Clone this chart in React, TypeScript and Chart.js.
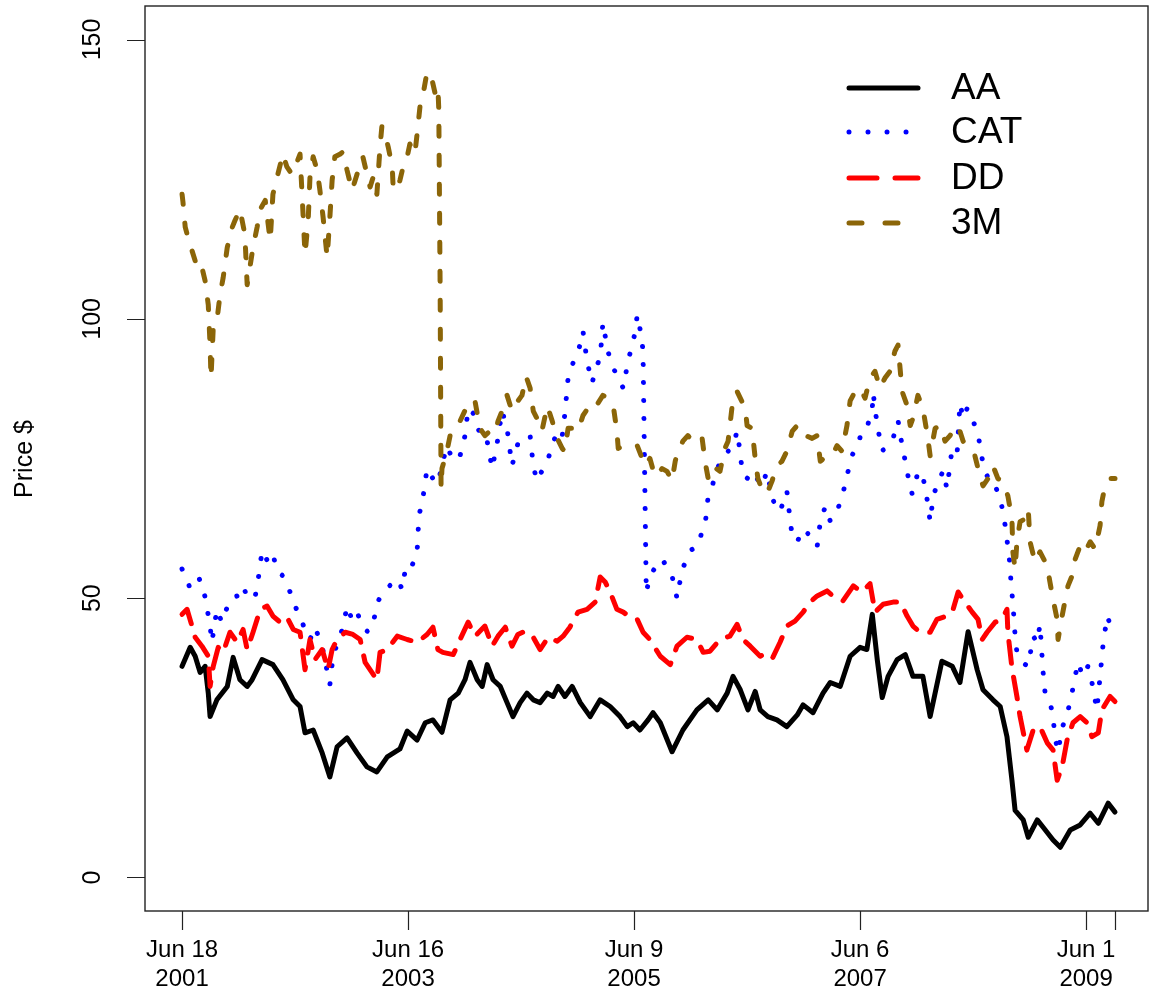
import React, { useEffect, useRef } from "react";
import { Chart, registerables } from "chart.js";

Chart.register(...registerables);

// Trading-day index positions of labelled ticks (last tick = final observation, unlabelled)
const xTickIdx = [0, 500, 1000, 1500, 2000, 2064];
const xTickLine1 = ["Jun 18", "Jun 16", "Jun 9", "Jun 6", "Jun 1", ""];
const xTickLine2 = ["2001", "2003", "2005", "2007", "2009", ""];
const yTicks = [0, 50, 100, 150];

const seriesNames = ["AA", "CAT", "DD", "3M"];

const aaIdx = [0,18,29,40,51,58,62,77,100,113,128,144,155,177,201,223,246,261,272,290,310,327,343,365,387,409,431,454,482,498,520,538,555,575,593,611,626,637,653,664,675,688,704,719,732,748,763,777,792,808,821,832,847,863,881,903,925,947,969,985,998,1013,1031,1042,1058,1084,1108,1139,1164,1184,1206,1219,1235,1252,1268,1279,1296,1316,1338,1361,1374,1396,1418,1434,1456,1478,1500,1515,1527,1538,1549,1562,1582,1600,1617,1639,1655,1681,1704,1721,1739,1759,1772,1794,1810,1825,1836,1843,1861,1872,1892,1905,1927,1943,1965,1987,2009,2027,2049,2064];
const aaPrice = [37.8,41.2,39.6,36.7,37.8,33,28.8,31.8,34.2,39.4,35.4,34.2,35.4,39,38.1,35.4,31.8,30.6,25.9,26.4,22.3,18,23.4,25,22.3,19.8,18.9,21.6,23,26.2,24.6,27.7,28.2,26,31.8,33,35.4,38.5,35.4,34.2,38.1,35.4,34.2,31.3,28.8,31.3,33,31.8,31.3,33,32.4,34.2,32.4,34.2,31.3,28.8,31.8,30.6,28.8,27,27.7,26.4,28.2,29.5,27.7,22.5,26.4,30,31.8,30,33,36,33.6,30,33.3,30,28.8,28.2,27,29.1,30.9,29.5,33,34.9,34.2,39.6,41.2,40.8,47.1,39,32.2,36,39,39.9,36,36,28.8,38.7,37.8,34.9,44,37.2,33.6,31.8,30.6,25.2,17.4,12,10.3,7.2,10.3,9,6.7,5.4,8.5,9.4,11.5,9.7,13.3,11.7];

const catIdx = [0,11,18,29,40,51,62,66,77,88,106,122,135,146,162,168,177,190,201,210,223,239,250,261,272,283,294,310,327,334,356,365,378,389,400,412,423,434,442,456,476,487,493,500,511,520,524,533,542,555,566,577,586,600,615,626,633,644,655,664,675,686,697,708,719,730,743,759,770,777,785,799,810,830,841,847,854,865,876,887,896,907,918,925,931,942,954,965,976,987,996,1002,1007,1018,1020,1027,1035,1051,1062,1077,1084,1095,1106,1124,1142,1150,1157,1164,1173,1184,1195,1208,1219,1228,1235,1239,1250,1261,1272,1283,1294,1305,1312,1323,1338,1345,1350,1361,1374,1389,1405,1412,1423,1434,1449,1462,1471,1482,1496,1504,1515,1527,1529,1538,1549,1562,1573,1584,1593,1600,1606,1615,1626,1637,1644,1650,1655,1662,1673,1684,1692,1699,1704,1715,1721,1728,1737,1750,1761,1765,1772,1781,1792,1799,1810,1816,1821,1827,1832,1834,1838,1843,1847,1858,1872,1883,1892,1898,1905,1909,1920,1927,1931,1938,1947,1958,1969,1982,1993,2004,2013,2024,2031,2038,2047,2053,2064];
const catPrice = [55.2,53.4,51.6,53.1,53.4,50.2,45,42.1,48,45.7,49.8,50.4,52.2,49.8,50.4,53.1,58.5,56.5,57.9,54.9,54,51.1,48.6,46.6,44.4,42.6,44.8,41.4,34.5,39.6,44.8,48.6,45.7,47.1,44.8,43.9,45.7,49.5,50.7,52,53.4,51.6,54.7,56.5,56.1,58.3,64.7,68,73.2,71.4,70.5,74.5,77.2,74.6,75.5,79.1,84,83.1,80.4,78.1,78.1,73.2,77.7,83.5,80.4,73.7,77.7,78.1,79.1,73.7,71,73.2,75,80,79,83.1,89.4,92.1,93.9,97.8,92.4,88.5,91.7,93,99.3,94.2,91.2,89.4,87.6,92.6,95.3,97.5,100.7,96.2,93,51,54,56,57,55,54,50,55,58.5,59.4,61.9,63,68.3,70.1,73.2,75,76.3,77.3,79.9,75.9,72.8,71.4,72.7,71.4,70.1,72.7,68.3,66.5,65.5,69.2,64.2,61,60.1,62.4,61.2,59.2,63.7,66.4,63.8,65.5,68.7,71.9,75.5,77.7,79.9,80.4,84,86.7,80.9,76.4,77.2,78.6,81.8,77.3,74.5,71.9,68.7,71.9,72.7,69.6,66.9,63.7,68.3,70.9,72.8,69.6,73.7,77.2,76.4,84.9,82.2,84,81.7,79.5,77.3,74.1,71.9,70.1,70.1,67.8,65.5,63,59.2,55.8,52.5,49.3,43.2,40.3,38.5,37.8,43.2,42.1,45.3,36.7,33.3,31.5,28.8,25.2,22.5,26.8,29.1,33.1,38.5,36,37.8,34.9,30,36,42.1,46.8,45.3,43.5];

const ddIdx = [0,11,22,29,44,58,62,69,80,91,106,122,135,144,157,173,188,201,217,232,246,261,272,283,294,310,323,332,343,361,378,394,405,420,431,438,454,476,498,520,542,555,566,577,600,615,633,648,670,686,699,715,730,743,759,777,792,810,830,843,858,876,896,914,925,936,947,962,976,991,1007,1020,1035,1058,1080,1095,1117,1139,1153,1168,1190,1212,1228,1241,1257,1279,1294,1307,1323,1338,1356,1374,1389,1405,1427,1440,1462,1485,1504,1522,1533,1551,1573,1589,1604,1617,1633,1655,1670,1692,1704,1717,1732,1748,1761,1770,1781,1799,1814,1825,1827,1836,1847,1854,1869,1883,1898,1914,1927,1936,1947,1958,1971,1987,2002,2013,2027,2035,2053,2064];
const ddPrice = [47.1,48,45,43,41.4,39.6,34.2,37.8,41.2,40.3,43.9,42.1,44.4,40.8,43.9,48,48.6,46.8,45.7,46.6,44.4,43.9,37.2,42.6,39,40.8,37.2,40.8,42.6,43.9,43.5,42.6,38.5,36.7,35.4,40.3,40.8,43.2,42.6,42.1,43.5,44.8,40.8,40.3,39.9,42.6,45.7,43.2,45,41.4,43.2,44.8,41.4,43.5,44.1,43,40.8,43,42.3,43.2,44.8,47.5,48,49.3,53.8,52.9,51.1,48,47.5,46.6,46.2,43.9,42.6,39.6,38.1,41.4,43,42.6,40.3,40.5,42.6,43.2,45.3,42.6,41.4,39.6,40.3,39.4,42.1,45,45.9,47.5,49.3,50.4,51.3,50.4,49.5,52.2,51.1,52.6,47.5,48.9,49.3,49.3,46.8,45,43.9,43.9,46.2,46.8,47.5,51.1,49.3,47.5,46.2,42.6,43.9,45.7,46.2,48,43.9,37.5,32.4,28.8,22.8,26.4,27,24.1,22.8,17.4,19.8,24.6,27.7,28.8,27.7,25.2,25.9,30,32.4,31.5];

const mmmIdx = [0,2,7,13,22,29,35,44,51,58,62,64,69,77,84,91,100,111,117,128,139,144,157,166,173,184,195,201,212,223,232,243,250,261,268,272,279,283,290,299,305,312,321,327,332,338,350,356,365,376,383,394,400,409,416,423,431,438,442,449,456,465,467,476,482,489,498,504,515,520,527,533,542,553,560,566,568,571,573,575,586,593,604,615,626,637,648,659,670,681,692,699,708,719,730,737,743,752,761,770,777,785,796,808,819,830,841,847,854,865,876,887,898,909,920,931,942,954,962,965,976,991,1007,1018,1024,1035,1046,1062,1073,1084,1091,1097,1108,1119,1131,1142,1150,1157,1164,1175,1190,1201,1208,1212,1219,1228,1235,1246,1250,1261,1268,1274,1285,1294,1305,1316,1327,1338,1350,1361,1372,1383,1394,1405,1412,1427,1438,1449,1460,1471,1478,1489,1500,1511,1522,1533,1544,1555,1566,1577,1584,1593,1604,1611,1617,1628,1639,1650,1655,1666,1677,1688,1699,1710,1717,1728,1739,1754,1765,1772,1783,1794,1805,1816,1827,1836,1838,1843,1847,1854,1865,1872,1876,1887,1898,1914,1920,1927,1936,1938,1947,1954,1960,1969,1976,1987,1998,2009,2020,2031,2035,2042,2053,2064];
const mmmPrice = [122.3,120.9,116.4,114.6,112.2,110.4,111,109.2,106.8,102.5,95.3,89.4,98.4,99.6,104.3,107.4,112.8,116.4,117.6,119.6,115.1,106.1,112.8,116.4,119.6,121.2,114,122.3,125.9,129.5,127.2,125.9,127.2,129.5,118.2,111.5,117.6,125.4,129,126.6,123,118.2,111,118.2,124.8,129,129.5,129.9,126.6,123,124.8,127.7,129,125.9,123.6,125.4,122.3,130.8,134.4,133.1,130.8,127.2,123.6,123,124.8,127.2,129,131.3,129.5,133.1,138.5,140.1,144.2,142.8,140.3,141.5,137.4,105,69.6,73.2,76.3,79.1,79.9,81.7,83.6,83.5,85.3,80.4,79.1,79.9,79.5,81.7,83.5,86.3,83.5,84.5,85.3,86.3,89.7,87.6,83.5,82.2,79.9,84.4,81.7,78.6,76.8,76.3,80.4,80.4,79.9,82.7,84,83.5,84.9,86.3,85.8,84.4,79.9,76.8,77.3,77.2,77.3,75,73.7,75,71.8,73.2,72.7,71,74.5,76.3,78.1,79.1,78.1,78.6,79,74.5,71.4,73.6,72.7,76.8,78.1,80.9,85.8,87,85.8,84,80.9,80.4,75,71.4,69.1,68.7,70.9,73.7,74.5,76.3,79.9,80.9,80.8,79,78.6,79.1,74.5,75.5,75.5,77.3,76.3,80.9,85.3,87,87.6,85.8,89.4,90.6,87.6,89.4,90.6,94.2,95.3,87,84.5,80.9,82.2,86.3,84,78.6,75.5,80.4,80.9,78.1,79.1,80.4,80.9,78.1,76.8,75.5,71.9,70.1,71.4,73.7,71.4,70.9,68.3,64.2,58.3,55.2,60.1,63.7,64.2,66,60.1,56.5,58.3,55.8,52.9,49.8,46.2,42.6,46.8,49.8,52.2,54,57,59.4,58.3,60.1,58.8,63,67.3,70.1,71.4,71.4];

const FONT = '"Liberation Sans", Arial, Helvetica, sans-serif';

const pairs = (xs: number[], ys: number[]) => {
  const n = Math.min(xs.length, ys.length);
  const out: { x: number; y: number }[] = [];
  for (let i = 0; i < n; i++) out.push({ x: xs[i], y: ys[i] });
  return out;
};

const legendStyles = [
  { color: "#000000", dash: [] as number[] },
  { color: "#0000FF", dash: [0.01, 19] },
  { color: "#FF0000", dash: [28, 18] },
  { color: "#8B6508", dash: [13, 23] },
];

const decorPlugin = {
  id: "decor",
  afterDraw(chart: any) {
    const { ctx, chartArea: a, scales } = chart;
    const x = scales.x;
    const y = scales.y;
    ctx.save();
    // box
    ctx.strokeStyle = "#222";
    ctx.lineWidth = 1.4;
    ctx.setLineDash([]);
    ctx.strokeRect(a.left, a.top, a.right - a.left, a.bottom - a.top);
    // ticks
    ctx.beginPath();
    yTicks.forEach((v) => {
      const py = Math.round(y.getPixelForValue(v)) + 0.5;
      ctx.moveTo(a.left - 18, py);
      ctx.lineTo(a.left, py);
    });
    xTickIdx.forEach((v) => {
      const px = Math.round(x.getPixelForValue(v)) + 0.5;
      ctx.moveTo(px, a.bottom);
      ctx.lineTo(px, a.bottom + 19);
    });
    ctx.lineWidth = 1.2;
    ctx.stroke();
    // y labels (rotated)
    ctx.fillStyle = "#000";
    ctx.font = `25px ${FONT}`;
    ctx.textAlign = "center";
    ctx.textBaseline = "alphabetic";
    yTicks.forEach((v) => {
      const py = y.getPixelForValue(v);
      ctx.save();
      ctx.translate(100, py);
      ctx.rotate(-Math.PI / 2);
      ctx.fillText(String(v), 0, 0);
      ctx.restore();
    });
    ctx.save();
    ctx.translate(32, 459);
    ctx.rotate(-Math.PI / 2);
    ctx.fillText("Price $", 0, 0);
    ctx.restore();
    // x labels
    ctx.font = `24px ${FONT}`;
    xTickIdx.forEach((v, i) => {
      const px = x.getPixelForValue(v);
      if (xTickLine1[i]) ctx.fillText(xTickLine1[i], px, a.bottom + 46);
      if (xTickLine2[i]) ctx.fillText(xTickLine2[i], px, a.bottom + 75);
    });
    // legend
    const rowsY = [88, 132, 178, 223];
    ctx.lineCap = "round";
    seriesNames.forEach((name, i) => {
      const st = legendStyles[i];
      ctx.beginPath();
      ctx.setLineDash(st.dash);
      ctx.strokeStyle = st.color;
      ctx.lineWidth = 5;
      ctx.moveTo(849, rowsY[i]);
      ctx.lineTo(918, rowsY[i]);
      ctx.stroke();
      ctx.setLineDash([]);
      ctx.fillStyle = "#000";
      ctx.font = `37px ${FONT}`;
      ctx.textAlign = "left";
      ctx.textBaseline = "middle";
      ctx.fillText(name, 951, rowsY[i] + 1);
    });
    ctx.restore();
  },
};

export default function App() {
  const ref = useRef<HTMLCanvasElement | null>(null);
  useEffect(() => {
    if (!ref.current) return;
    const common = {
      pointRadius: 0,
      borderWidth: 5,
      borderCapStyle: "round" as const,
      borderJoinStyle: "round" as const,
      tension: 0,
      fill: false,
    };
    const chart = new Chart(ref.current, {
      type: "line",
      data: {
        datasets: [
          { ...common, label: seriesNames[0], data: pairs(aaIdx, aaPrice), borderColor: "#000000", order: 4 },
          { ...common, label: seriesNames[1], data: pairs(catIdx, catPrice), borderColor: "#0000FF", borderDash: [0.01, 18], order: 3 },
          { ...common, label: seriesNames[2], data: pairs(ddIdx, ddPrice), borderColor: "#FF0000", borderDash: [22, 14], order: 2 },
          { ...common, label: seriesNames[3], data: pairs(mmmIdx, mmmPrice), borderColor: "#8B6508", borderDash: [10, 19], order: 1 },
        ],
      },
      options: {
        responsive: false,
        devicePixelRatio: 1,
        animation: false,
        layout: { padding: { top: 6, right: 17, left: 0, bottom: 0 } },
        plugins: { legend: { display: false }, tooltip: { enabled: false } },
        scales: {
          x: {
            type: "linear",
            min: -82,
            max: 2137,
            grid: { display: false },
            border: { display: false },
            ticks: { display: false },
            afterFit: (s: any) => { s.height = 89; },
          },
          y: {
            type: "linear",
            min: -6,
            max: 156,
            grid: { display: false },
            border: { display: false },
            ticks: { display: false },
            afterFit: (s: any) => { s.width = 145; },
          },
        },
      },
      plugins: [decorPlugin],
    });
    return () => chart.destroy();
  }, []);
  return (
    <div style={{ position: "absolute", left: 0, top: 0, width: 1149, height: 1000, overflow: "hidden", background: "#fff" }}>
      <canvas ref={ref} width={1165} height={1000} />
    </div>
  );
}
